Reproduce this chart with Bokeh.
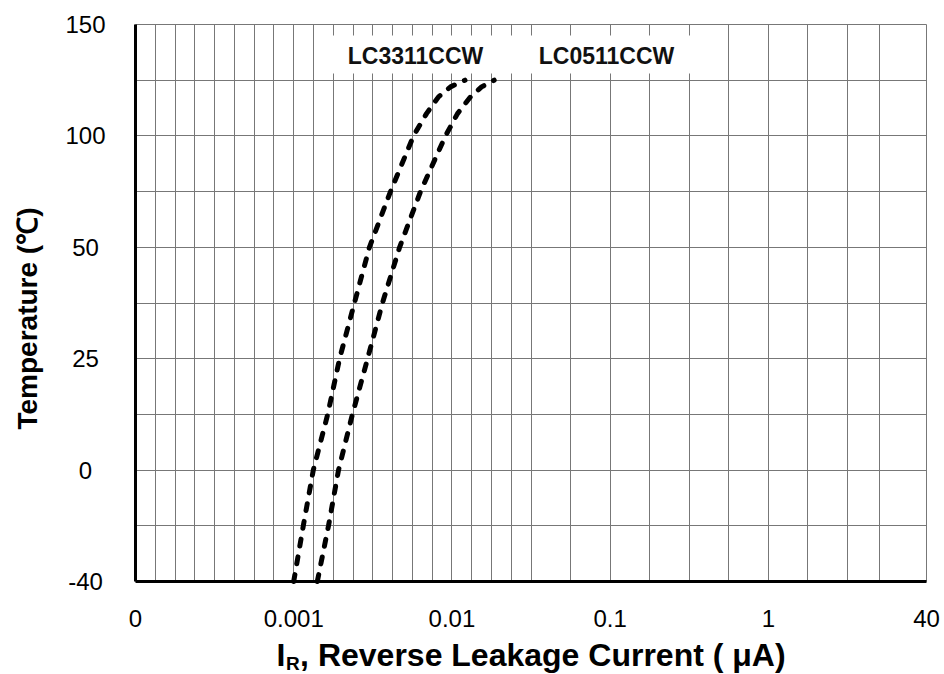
import numpy as np
from bokeh.plotting import figure
from bokeh.models import FixedTicker, Label, BoxAnnotation, Range1d, Grid
from bokeh.core.properties import value
from bokeh.embed import file_html
from bokeh.resources import INLINE

# ---------------- data ----------------
TEMP_TICKS = [-40, 0, 25, 50, 100, 150]
TEMP_LABELS = ["-40", "0", "25", "50", "100", "150"]

CURRENT_TICKS = [1e-4, 1e-3, 1e-2, 1e-1, 1.0, 10.0]
CURRENT_LABELS = ["0", "0.001", "0.01", "0.1", "1", "40"]

TEMPS = [-40, -20, 0, 12.5, 25, 37.5, 50, 75, 100, 110, 117.5, 122, 125]
LC3311CCW = [0.00100, 0.00115, 0.00133, 0.00164, 0.00195, 0.00242, 0.00301,
             0.00409, 0.00572, 0.00691, 0.00823, 0.00980, 0.01210]
LC0511CCW = [0.00141, 0.00166, 0.00192, 0.00235, 0.00293, 0.00364, 0.00467,
             0.00633, 0.00911, 0.01085, 0.01310, 0.01540, 0.01850]
SERIES_NAMES = ["LC3311CCW", "LC0511CCW"]

Y_TITLE = "Temperature (℃)"
X_TITLE_MAIN = "I"
X_TITLE_SUB = "R"
X_TITLE_REST = ", Reverse Leakage Current ( μA)"

# grid layout of the chart paper (exponents of the vertical lines)
GRID_EXP = [-4 + i / 8 for i in range(21)] + [-1.25, -1.0, -0.75, -0.5, -0.25,
                                              0.0, 0.25, 0.5, 0.7, 1.0]

# ---------------- layout constants (pixels) ----------------
FONT = "Liberation Sans"
PAGE_W, PAGE_H = 944, 674
FRAME_L, FRAME_T = 135, 24          # page position of the chart area
FRAME_W, FRAME_H = 791, 557
FRAME_R, FRAME_B = FRAME_L + FRAME_W, FRAME_T + FRAME_H
X_LO, X_HI = 1e-4, 10.0

n_idx = len(TEMP_TICKS) - 1
tick_idx = np.arange(len(TEMP_TICKS), dtype=float)
y_pos = np.interp(TEMPS, TEMP_TICKS, tick_idx)

# extend both ranges so the chart area sits at its page position
lx_lo, lx_hi = np.log10(X_LO), np.log10(X_HI)
dec_per_px = (lx_hi - lx_lo) / FRAME_W
idx_per_px = n_idx / FRAME_H
x_range = Range1d(10 ** (lx_lo - FRAME_L * dec_per_px),
                  10 ** (lx_hi + (PAGE_W - FRAME_R) * dec_per_px))
y_range = Range1d(-(PAGE_H - FRAME_B) * idx_per_px,
                  n_idx + FRAME_T * idx_per_px)


def px_to_x(px):
    return 10 ** (lx_lo + (px - FRAME_L) * dec_per_px)


def py_to_y(py):
    return (FRAME_B - py) * idx_per_px


p = figure(width=PAGE_W, height=PAGE_H, x_axis_type="log",
           x_range=x_range, y_range=y_range, min_border=0,
           x_axis_location=None, y_axis_location=None,
           output_backend="svg", toolbar_location=None)
p.background_fill_color = "white"
p.border_fill_color = "white"
p.outline_line_color = None
p.grid.visible = False

GRID_COLOR = "#777777"
xg_ticks = [10 ** e for e in GRID_EXP]
yg_ticks = list(np.arange(0, n_idx + 0.01, 0.5))
try:
    xg = Grid(dimension=0, ticker=FixedTicker(ticks=xg_ticks),
              cross_bounds=(0, n_idx))
    yg = Grid(dimension=1, ticker=FixedTicker(ticks=yg_ticks),
              cross_bounds=(X_LO, X_HI))
    for g in (xg, yg):
        g.grid_line_color = GRID_COLOR
        g.grid_line_width = 1
        p.add_layout(g)
except Exception:
    p.segment(x0=xg_ticks, x1=xg_ticks, y0=[0] * len(xg_ticks),
              y1=[n_idx] * len(xg_ticks), line_color=GRID_COLOR, line_width=1)
    p.segment(x0=[X_LO] * len(yg_ticks), x1=[X_HI] * len(yg_ticks),
              y0=yg_ticks, y1=yg_ticks, line_color=GRID_COLOR, line_width=1)

# axis lines (left and bottom, heavy black)
p.segment(x0=[X_LO, X_LO], x1=[X_LO, X_HI], y0=[0, 0], y1=[n_idx, 0],
          line_color="black", line_width=3)

# curves
for cur in (LC3311CCW, LC0511CCW):
    p.line(cur, y_pos, line_color="black", line_width=5,
           line_dash="7 11", line_cap="round")

# white backdrop behind the curve names + names
p.add_layout(BoxAnnotation(left=px_to_x(318), right=px_to_x(705),
                           bottom=py_to_y(73), top=py_to_y(35),
                           fill_color="white", fill_alpha=1.0,
                           line_color=None, level="underlay"))
for name, px in zip(SERIES_NAMES, [415, 606]):
    p.add_layout(Label(x=px_to_x(px), y=py_to_y(55), text=name,
                       text_align="center", text_baseline="middle",
                       text_font=FONT, text_font_size="23px",
                       text_font_style="bold", text_color="#111111"))

# tick labels through the scales
p.text(x=[px_to_x(85)] * len(TEMP_LABELS), y=tick_idx, text=TEMP_LABELS,
       text_font=value(FONT), text_font_size=value("24px"),
       text_align="center", text_baseline="middle", text_color="black")
p.text(x=CURRENT_TICKS, y=[py_to_y(618)] * len(CURRENT_TICKS),
       text=CURRENT_LABELS, text_font=value(FONT),
       text_font_size=value("24px"), text_align="center",
       text_baseline="middle", text_color="black")

# axis titles
p.add_layout(Label(x=27, y=PAGE_H - 318, x_units="screen", y_units="screen",
                   text=Y_TITLE, angle=np.pi / 2, text_align="center",
                   text_baseline="middle", text_font=FONT,
                   text_font_size="28px", text_font_style="bold",
                   text_color="black"))
# (x, text-box middle on the page, font size)
for txt, px, mid, fs in [(X_TITLE_MAIN, 276, 654, "32px"),
                         (X_TITLE_SUB, 285.4, 663, "19px"),
                         (X_TITLE_REST, 299.6, 654, "32px")]:
    p.add_layout(Label(x=px, y=PAGE_H - mid, x_units="screen",
                       y_units="screen", text=txt, text_align="left",
                       text_baseline="middle", text_font=FONT,
                       text_font_size=fs, text_font_style="bold",
                       text_color="black"))

open("out.html", "w").write(file_html(p, INLINE))
